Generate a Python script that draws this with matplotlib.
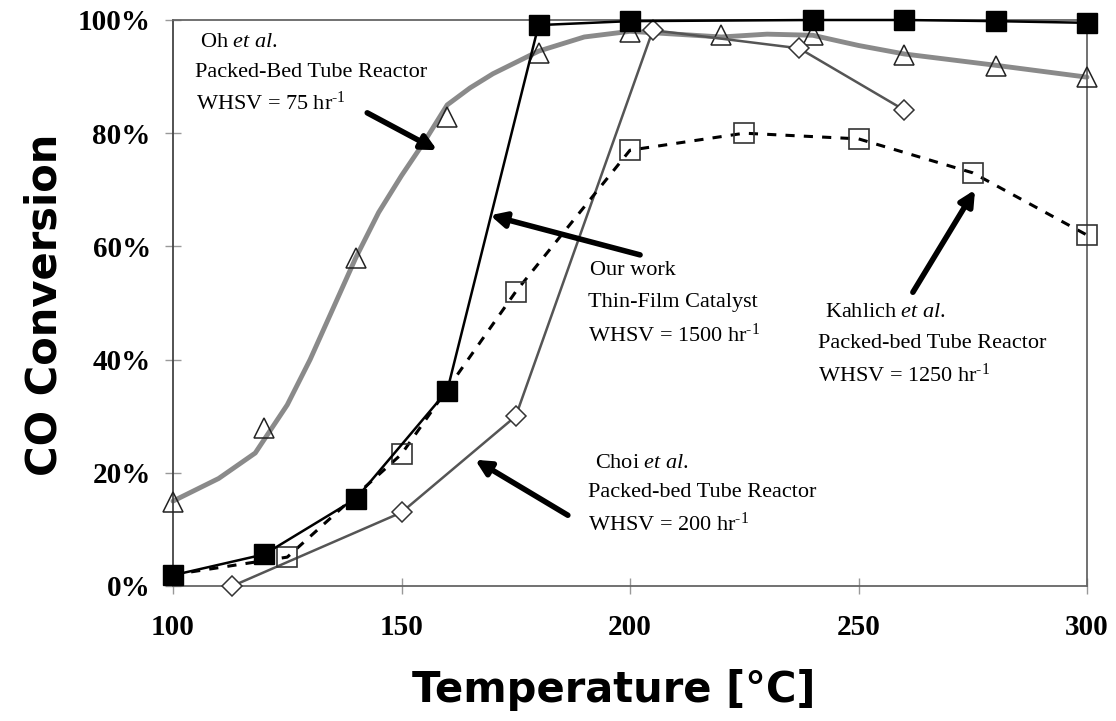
import matplotlib
matplotlib.use("Agg")
import matplotlib.pyplot as plt

plt.rcParams['mathtext.fontset'] = 'custom'
plt.rcParams['mathtext.rm'] = 'Liberation Serif'
plt.rcParams['mathtext.it'] = 'Liberation Serif:italic'

# ---- data ----
our_T = [100, 120, 140, 160, 180, 200, 240, 260, 280, 300]
our_v = [0.019, 0.056, 0.154, 0.345, 0.991, 0.998, 1.0, 1.0, 0.998, 0.995]

oh_T = [100, 120, 140, 160, 180, 200, 220, 240, 260, 280, 300]
oh_v = [0.148, 0.279, 0.580, 0.829, 0.942, 0.979, 0.973, 0.973, 0.938, 0.919, 0.899]
oh_curve_T = [100, 110, 118, 125, 130, 135, 140, 145, 150, 155, 160, 165, 170, 175, 180,
              190, 200, 210, 220, 230, 240, 250, 260, 280, 300]
oh_curve_v = [0.150, 0.190, 0.235, 0.320, 0.400, 0.490, 0.580, 0.660, 0.725, 0.785, 0.850,
              0.880, 0.905, 0.925, 0.945, 0.970, 0.980, 0.975, 0.970, 0.975, 0.973, 0.955,
              0.940, 0.920, 0.899]

kah_T = [100, 125, 150, 175, 200, 225, 250, 275, 300]
kah_v = [0.020, 0.051, 0.233, 0.520, 0.770, 0.800, 0.790, 0.730, 0.620]

choi_T = [113, 150, 175, 205, 237, 260]
choi_v = [0.0, 0.130, 0.300, 0.982, 0.950, 0.841]

xticks = [100, 150, 200, 250, 300]
yticks = [0, 0.2, 0.4, 0.6, 0.8, 1.0]
ytick_labels = ['0%', '20%', '40%', '60%', '80%', '100%']

notes = [
    [r'Oh $\mathit{et\ al}$.', 'Packed-Bed Tube Reactor', r'WHSV = 75 hr$^{\text{-1}}$'],
    ['Our work', 'Thin-Film Catalyst', r'WHSV = 1500 hr$^{\text{-1}}$'],
    [r'Kahlich $\mathit{et\ al}$.', 'Packed-bed Tube Reactor', r'WHSV = 1250 hr$^{\text{-1}}$'],
    [r'Choi $\mathit{et\ al}$.', 'Packed-bed Tube Reactor', r'WHSV = 200 hr$^{\text{-1}}$'],
]
note_pos = [
    [(105.9, 0.961), (104.8, 0.908), (105.0, 0.853)],
    [(191.2, 0.558), (190.8, 0.500), (190.8, 0.443)],
    [(242.7, 0.484), (241.1, 0.429), (241.1, 0.373)],
    [(192.3, 0.217), (190.8, 0.166), (190.8, 0.110)],
]
arrows = [
    ((142.5, 0.836), (157.8, 0.770)),
    ((202.2, 0.585), (169.4, 0.655)),
    ((261.9, 0.519), (275.5, 0.700)),
    ((186.4, 0.125), (166.1, 0.223)),
]

# ---- figure ----
fig = plt.figure(figsize=(11.16, 7.21), dpi=100)
ax = fig.add_axes([173/1116, 1-586/721, (1087-173)/1116, (586-20)/721])

ax.plot(oh_curve_T, oh_curve_v, color='#8a8a8a', lw=3.5, solid_capstyle='round', zorder=2,
        clip_on=False)
ax.plot(oh_T, oh_v, ls='none', marker='^', ms=14, mfc='none', mec='#222222', mew=1.1,
        zorder=3, clip_on=False)

ax.plot(choi_T, choi_v, color='#555555', lw=1.8, marker='D', ms=10, mfc='white',
        mec='#333333', mew=1.1, zorder=4, clip_on=False)

ax.plot(kah_T, kah_v, color='black', lw=2.2, ls=(0, (3, 3)), zorder=5, clip_on=False)
ax.plot(kah_T[1:], kah_v[1:], ls='none', marker='s', ms=14, mfc='none', mec='#333333',
        mew=1.2, zorder=5, clip_on=False)

ax.plot(our_T, our_v, color='black', lw=1.8, marker='s', ms=14, mfc='black', mec='black',
        zorder=6, clip_on=False)

ax.set_xlim(100, 300)
ax.set_ylim(0, 1.0)
ax.set_xticks(xticks)
ax.set_xticklabels([str(t) for t in xticks])
ax.set_yticks(yticks)
ax.set_yticklabels(ytick_labels)
ax.tick_params(direction='inout', length=12, width=1, color='#999999', pad=14)
ax.tick_params(axis='y', pad=10)
for lab in ax.get_xticklabels() + ax.get_yticklabels():
    lab.set_fontfamily('Liberation Serif')
    lab.set_fontweight('bold')
    lab.set_fontsize(21)
for s in ax.spines.values():
    s.set_color('#666666')
    s.set_linewidth(1.3)
ax.spines['left'].set_color('#444444')

fig.text(614/1116, 1-690/721, 'Temperature [°C]', family='DejaVu Sans', weight='bold',
         fontsize=30, ha='center', va='center')
fig.text(45/1116, 1-305/721, 'CO Conversion', family='DejaVu Sans', weight='bold',
         fontsize=30, ha='center', va='center', rotation=90)

for lines, poss in zip(notes, note_pos):
    for txt, (x, y) in zip(lines, poss):
        ax.text(x, y, txt, family='Liberation Serif', fontsize=16, ha='left', va='center',
                zorder=8)

for (tail, tip) in arrows:
    ax.annotate('', xy=tip, xytext=tail,
                arrowprops=dict(arrowstyle='-|>,head_length=0.9,head_width=0.45', lw=4,
                                color='black', shrinkA=0, shrinkB=0), zorder=8)

fig.savefig('out.png', dpi=100)
